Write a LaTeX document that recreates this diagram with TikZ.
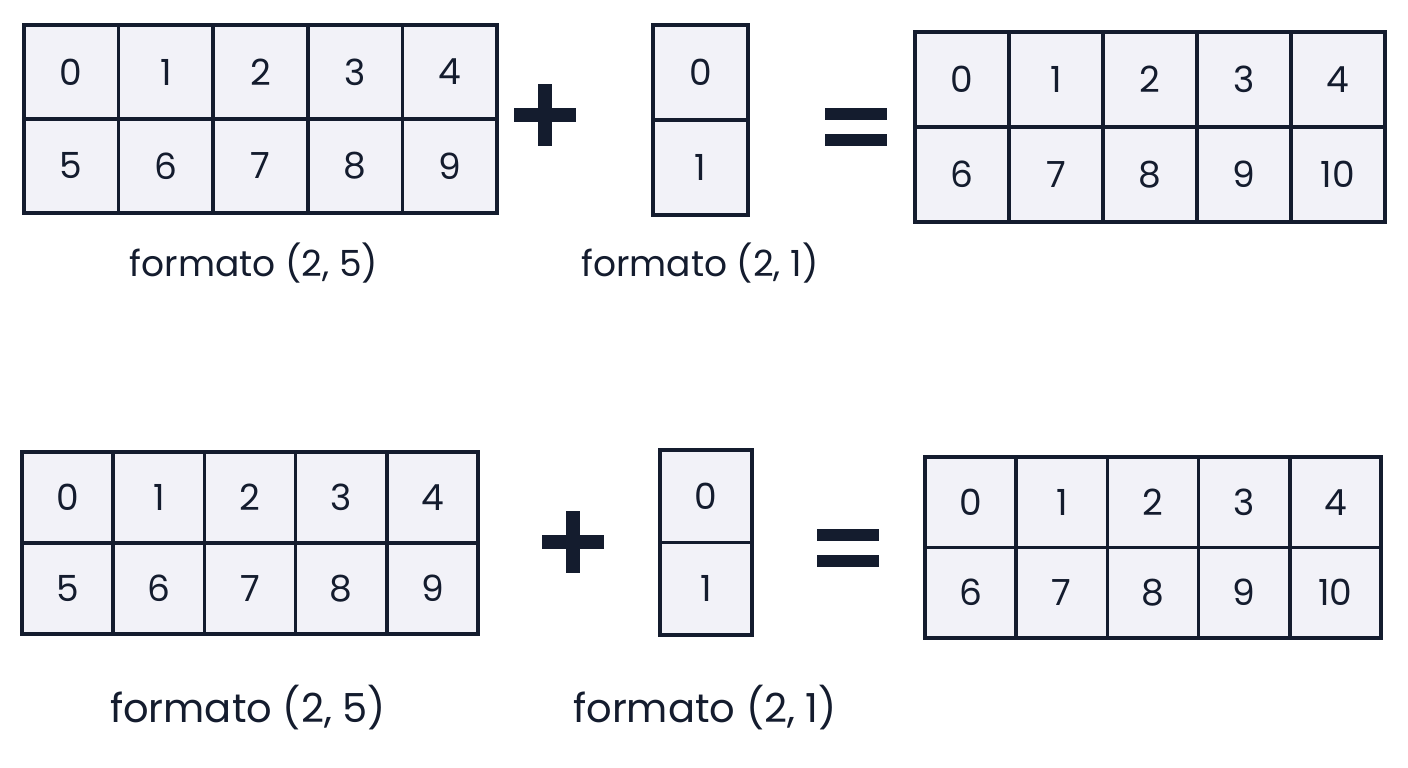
\documentclass[tikz,border=0pt]{standalone}
\usepackage{fontspec}
\setmainfont{Poppins}
\definecolor{ink}{HTML}{141C2E}
\definecolor{cellbg}{HTML}{F2F2F8}
\tikzset{
  cell/.style={draw=ink, fill=cellbg, line width=3.5pt, inner sep=0pt,
    text=ink, font=\fontsize{36}{40}\selectfont},
  caption/.style={text=ink, inner sep=0pt}
}
% #1 name, #2 left x, #3 top y (from top), #4 cell width, #5 cell height, #6 columns, #7 first number of row 2
\newcommand{\mkgrid}[7]{%
  \foreach \c in {1,...,#6}{%
    \pgfmathtruncatemacro\na{\c-1}%
    \pgfmathtruncatemacro\nb{\c-1+#7}%
    \node[cell, minimum width=#4pt, minimum height=#5pt] (#1-1-\c)
      at ({#2+(\c-0.5)*#4}, {768-#3-0.5*#5}) {\na};
    \node[cell, minimum width=#4pt, minimum height=#5pt] (#1-2-\c)
      at ({#2+(\c-0.5)*#4}, {768-#3-1.5*#5}) {\nb};
  }%
}
% plus and equals signs, centred at (#1,#2) in pixels from top
\newcommand{\plussign}[2]{%
  \fill[ink] ({#1-31},{768-#2-7}) rectangle ({#1+31},{768-#2+7});
  \fill[ink] ({#1-7},{768-#2-31}) rectangle ({#1+7},{768-#2+31});
}
\newcommand{\eqsign}[2]{%
  \fill[ink] ({#1-31},{768-#2+7}) rectangle ({#1+31},{768-#2+19});
  \fill[ink] ({#1-31},{768-#2-7}) rectangle ({#1+31},{768-#2-19});
}
\begin{document}
\begin{tikzpicture}[x=1pt,y=1pt]
  \useasboundingbox (0,0) rectangle (1408,768);
  % top row
  \mkgrid{ta}{24}{25}{94.6}{94}{5}{5}
  \mkgrid{tb}{653}{25}{95}{95}{1}{1}
  \mkgrid{tc}{915}{32}{94}{95}{5}{6}
  \plussign{545}{115}
  \eqsign{856}{127}
  \node[caption, font=\fontsize{36}{40}\selectfont] (tla) at (254,{768-263}) {formato (2, 5)};
  \node[caption, font=\fontsize{36}{40}\selectfont] (tlb) at (700,{768-263}) {formato (2, 1)};
  % bottom row
  \mkgrid{ba}{22}{452}{91.2}{91}{5}{5}
  \mkgrid{bb}{660}{450}{92}{92.5}{1}{1}
  \mkgrid{bc}{925}{457}{91.2}{90.5}{5}{6}
  \plussign{573}{542}
  \eqsign{848}{548}
  \node[caption, font=\fontsize{40}{44}\selectfont] (bla) at (248,{768-708}) {formato (2, 5)};
  \node[caption, font=\fontsize{40}{44}\selectfont] (blb) at (705,{768-708}) {formato (2, 1)};
\end{tikzpicture}
\end{document}
